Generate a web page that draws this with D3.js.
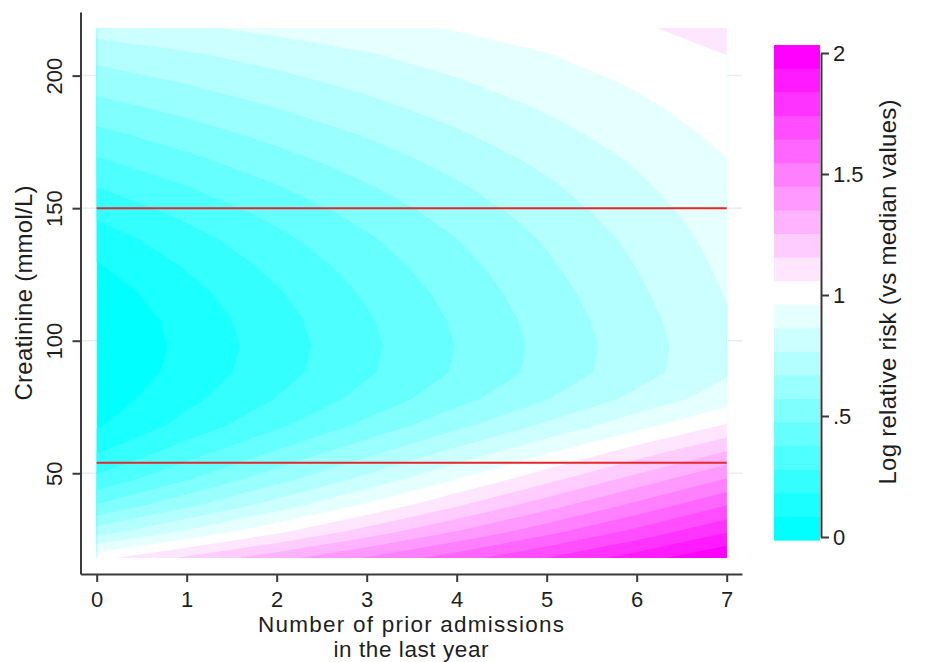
<!DOCTYPE html>
<html>
<head>
<meta charset="utf-8">
<script src="https://cdn.jsdelivr.net/npm/d3@7"></script>
<style>
  body { margin: 0; background: #fff; }
  svg { display: block; }
</style>
</head>
<body>
<div id="chart"></div>
<script>
// grid axes: number of prior admissions (x) and creatinine (y, mmol/L)
var admissions = [0, 1, 2, 3, 4, 5, 6, 7];
var creatinine = [18, 28, 38, 48, 58, 68, 78, 88, 98, 108, 118, 128, 138, 148, 158, 168, 178, 188, 198, 208, 218];

// log relative risk, one row per creatinine value
var logRisk = [
  [1.030, 1.173, 1.316, 1.459, 1.601, 1.744, 1.887, 2.030],
  [0.720, 0.879, 1.037, 1.196, 1.354, 1.513, 1.671, 1.830],
  [0.480, 0.646, 0.811, 0.977, 1.143, 1.309, 1.474, 1.640],
  [0.300, 0.464, 0.629, 0.793, 0.957, 1.121, 1.286, 1.450],
  [0.175, 0.330, 0.485, 0.640, 0.795, 0.950, 1.105, 1.260],
  [0.075, 0.217, 0.359, 0.501, 0.644, 0.786, 0.928, 1.070],
  [0.030, 0.157, 0.284, 0.411, 0.539, 0.666, 0.793, 0.920],
  [0.000, 0.121, 0.243, 0.364, 0.486, 0.607, 0.729, 0.850],
  [-0.010, 0.110, 0.233, 0.355, 0.478, 0.600, 0.722, 0.845],
  [0.000, 0.122, 0.244, 0.366, 0.489, 0.611, 0.733, 0.855],
  [0.030, 0.150, 0.270, 0.390, 0.510, 0.630, 0.750, 0.870],
  [0.075, 0.191, 0.306, 0.422, 0.538, 0.654, 0.769, 0.885],
  [0.130, 0.240, 0.350, 0.460, 0.570, 0.680, 0.790, 0.900],
  [0.200, 0.303, 0.406, 0.509, 0.611, 0.714, 0.817, 0.920],
  [0.280, 0.374, 0.469, 0.563, 0.657, 0.751, 0.846, 0.940],
  [0.365, 0.450, 0.535, 0.620, 0.705, 0.790, 0.875, 0.960],
  [0.450, 0.526, 0.603, 0.679, 0.756, 0.832, 0.909, 0.985],
  [0.535, 0.603, 0.671, 0.739, 0.807, 0.874, 0.942, 1.010],
  [0.620, 0.679, 0.739, 0.798, 0.857, 0.917, 0.976, 1.035],
  [0.705, 0.756, 0.806, 0.857, 0.908, 0.959, 1.009, 1.060],
  [0.810, 0.850, 0.890, 0.930, 0.970, 1.010, 1.050, 1.090]
];

// contour cut points (21 bands)
var cuts = [-0.013, 0.085, 0.183, 0.280, 0.377, 0.475, 0.572, 0.670, 0.767, 0.864, 0.962,
            1.059, 1.156, 1.254, 1.351, 1.449, 1.546, 1.643, 1.741, 1.838, 1.936, 2.033];

// reference lines (creatinine)
var refLines = [54, 150];

var xTicks = [0, 1, 2, 3, 4, 5, 6, 7];
var yTicks = [50, 100, 150, 200];
var barTicks = [0, 0.5, 1, 1.5, 2];
var barTickLabels = ["0", ".5", "1", "1.5", "2"];

// cyan -> white -> magenta
var band_colors = ['#00ffff','#1affff','#33ffff','#4dffff','#66ffff','#80ffff','#99ffff','#b3ffff','#ccffff','#e6ffff',
                   '#ffffff',
                   '#ffe6ff','#ffccff','#ffb3ff','#ff99ff','#ff80ff','#ff66ff','#ff4dff','#ff33ff','#ff1aff','#ff00ff'];

var text_color = '#1e1e1e';
var axis_color = '#3a3a3a';

var svg = d3.select('#chart').append('svg')
  .attr('width', 942)
  .attr('height', 662)
  .attr('font-family', '"Liberation Sans", Arial, sans-serif')
  .attr('font-size', '22px');

var x = d3.scaleLinear().domain([-0.18, 7.17]).range([80.5, 742]);
var y = d3.scaleLinear().domain([12, 224]).range([574, 12]);

// faint gridlines
svg.append('g')
  .selectAll('line')
  .data(yTicks)
  .join('line')
  .attr('x1', x.range()[0])
  .attr('x2', x.range()[1])
  .attr('y1', d => y(d))
  .attr('y2', d => y(d))
  .attr('stroke', '#e6eef2')
  .attr('stroke-width', 1.5);

// filled contours (d3.contours puts grid value k at k + 0.5)
var nx = admissions.length, ny = creatinine.length;
var values = [].concat.apply([], logRisk);
var contours = d3.contours()
  .size([nx, ny])
  .thresholds(cuts.slice(0, -1))(values);

var gx = d3.scaleLinear().domain([0.5, nx - 0.5]).range([admissions[0], admissions[nx - 1]]).clamp(true);
var gy = d3.scaleLinear().domain([0.5, ny - 0.5]).range([creatinine[0], creatinine[ny - 1]]).clamp(true);
var proj = d3.geoTransform({
  point: function (px, py) { this.stream.point(x(gx(px)), y(gy(py))); }
});
var path = d3.geoPath(proj);

svg.append('g')
  .selectAll('path')
  .data(contours)
  .join('path')
  .attr('d', path)
  .attr('fill', (d, i) => band_colors[i]);

// red reference lines
svg.append('g')
  .selectAll('line')
  .data(refLines)
  .join('line')
  .attr('x1', x(admissions[0]))
  .attr('x2', x(admissions[nx - 1]))
  .attr('y1', d => y(d))
  .attr('y2', d => y(d))
  .attr('stroke', '#e5262b')
  .attr('stroke-width', 2);

// axes
var yAxis = svg.append('g')
  .attr('transform', `translate(${x.range()[0]},0)`)
  .call(d3.axisLeft(y).tickValues(yTicks).tickSize(8).tickSizeOuter(0));

var xAxis = svg.append('g')
  .attr('transform', `translate(0,${y.range()[0]})`)
  .call(d3.axisBottom(x).tickValues(xTicks).tickSize(8).tickSizeOuter(0));

[yAxis, xAxis].forEach(g => {
  g.attr('font-size', null).attr('font-family', null);
  g.selectAll('.domain, .tick line').attr('stroke', axis_color).attr('stroke-width', 2);
  g.selectAll('.tick text').attr('fill', text_color);
});

yAxis.selectAll('.tick text')
  .attr('transform', 'rotate(-90)')
  .attr('x', 0)
  .attr('y', -18.5)
  .attr('dy', 0)
  .attr('text-anchor', 'middle');

xAxis.selectAll('.tick text')
  .attr('y', 33)
  .attr('dy', 0);

// axis titles
svg.append('text')
  .attr('transform', 'translate(32,293) rotate(-90)')
  .attr('text-anchor', 'middle')
  .attr('font-size', '24px')
  .attr('fill', text_color)
  .attr('textLength', 215)
  .attr('lengthAdjust', 'spacing')
  .text('Creatinine (mmol/L)');

// two-line x title
svg.append('text')
  .attr('x', 411)
  .attr('y', 632)
  .attr('text-anchor', 'middle')
  .attr('font-size', '22.5px')
  .attr('fill', text_color)
  .attr('textLength', 306)
  .attr('lengthAdjust', 'spacing')
  .text('Number of prior admissions');

svg.append('text')
  .attr('x', 411)
  .attr('y', 657)
  .attr('text-anchor', 'middle')
  .attr('font-size', '22.5px')
  .attr('fill', text_color)
  .attr('textLength', 155)
  .attr('lengthAdjust', 'spacing')
  .text('in the last year');

// colour bar
var bar = d3.scaleLinear().domain([0, 2]).range([537, 53]);
var barBands = cuts.slice(0, -1).map((c, i) => ({ lo: c, hi: cuts[i + 1], color: band_colors[i] }));

svg.append('g')
  .selectAll('rect')
  .data(barBands)
  .join('rect')
  .attr('x', 774)
  .attr('width', 46)
  .attr('y', d => bar(d.hi))
  .attr('height', d => bar(d.lo) - bar(d.hi) + 0.5)
  .attr('fill', d => d.color);

var barAxis = svg.append('g')
  .attr('transform', 'translate(821,0)')
  .call(d3.axisRight(bar).tickValues(barTicks).tickFormat((d, i) => barTickLabels[i]).tickSize(8).tickSizeOuter(0));

barAxis.attr('font-size', null).attr('font-family', null);
barAxis.selectAll('.domain, .tick line').attr('stroke', axis_color).attr('stroke-width', 2);
barAxis.selectAll('.tick text').attr('fill', text_color).attr('x', 12);

svg.append('text')
  .attr('transform', 'translate(896,292) rotate(-90)')
  .attr('text-anchor', 'middle')
  .attr('font-size', '24px')
  .attr('fill', text_color)
  .attr('textLength', 385)
  .attr('lengthAdjust', 'spacing')
  .text('Log relative risk (vs median values)');
</script>
</body>
</html>
